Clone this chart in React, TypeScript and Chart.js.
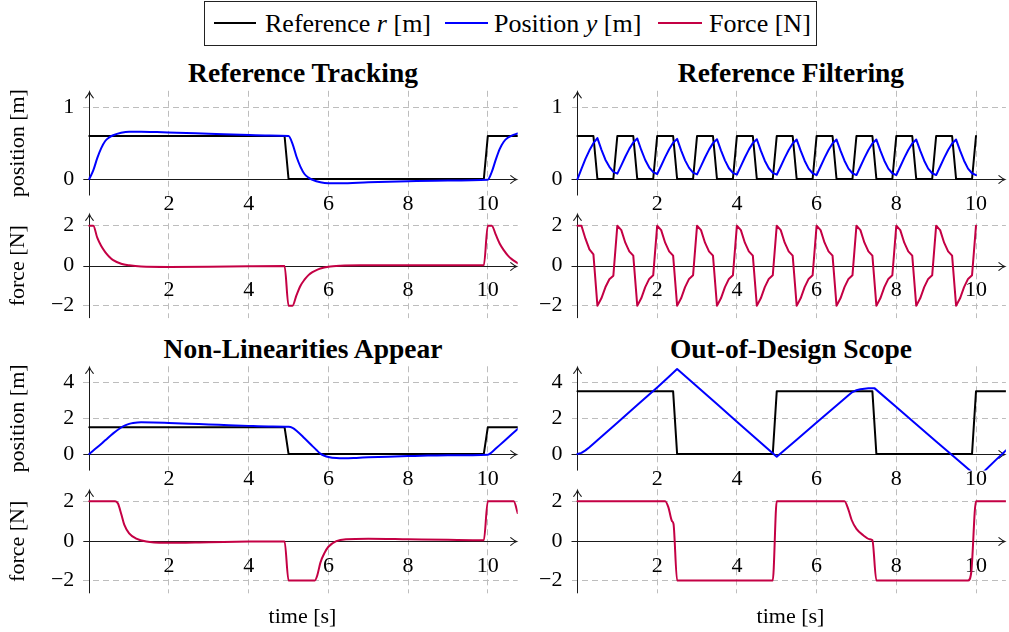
import React, { useEffect, useRef } from 'react';
import { Chart, registerables } from 'chart.js';

Chart.register(...registerables);

const FONT = "'Liberation Serif', 'Times New Roman', serif";
const BLUE = '#0000ff';
const RED = '#c40044';
const BLACK = '#000000';
const GRID_COLOR = '#bdbdbd';
const AXIS_COLOR = '#1a1a1a';
const NONE = 'rgba(0,0,0,0)';

// ---------- tick values / labels ----------
const xTickValues = [0, 2, 4, 6, 8, 10];
const xTickLabels = ['', '2', '4', '6', '8', '10'];
const posTicksSmall = [0, 1];
const posLabelsSmall = ['0', '1'];
const posTicksLarge = [0, 2, 4];
const posLabelsLarge = ['0', '2', '4'];
const forceTicks = [-2, 0, 2];
const forceLabels = ['\u22122', '0', '2'];

// ---------- Reference Tracking ----------
const trackTimeRef = [0, 4.9, 5.0, 9.9, 10.0, 10.75];
const trackRef = [0.6, 0.6, 0, 0, 0.6, 0.6];
const trackTimePos = [0, 0.1, 0.2, 0.3, 0.4, 0.5, 0.6, 0.8, 1.0, 1.3, 1.7, 2.2, 3.0, 3.8, 4.5, 5.0, 5.1, 5.2, 5.3, 5.4, 5.5, 5.6, 5.8, 6.0, 6.3, 7.0, 8.0, 9.0, 10.0, 10.1, 10.2, 10.3, 10.4, 10.5, 10.6, 10.75];
const trackPos = [0, 0.12, 0.29, 0.43, 0.53, 0.58, 0.61, 0.645, 0.66, 0.66, 0.655, 0.645, 0.632, 0.618, 0.607, 0.6, 0.49, 0.31, 0.17, 0.07, 0.02, -0.01, -0.045, -0.058, -0.058, -0.045, -0.03, -0.02, -0.01, 0.1, 0.27, 0.42, 0.52, 0.575, 0.605, 0.635];
const trackTimeForce = [0, 0.1, 0.2, 0.3, 0.4, 0.5, 0.6, 0.8, 1.0, 1.3, 2.0, 3.0, 4.0, 4.9, 5.0, 5.1, 5.2, 5.3, 5.4, 5.5, 5.6, 5.7, 5.8, 6.0, 6.3, 6.8, 8.0, 9.9, 10.0, 10.1, 10.2, 10.3, 10.4, 10.5, 10.6, 10.75];
const trackForce = [2, 2, 1.4, 0.98, 0.68, 0.45, 0.28, 0.1, 0.02, -0.04, -0.06, -0.05, -0.03, -0.02, -2, -2, -1.47, -1.0, -0.7, -0.47, -0.32, -0.22, -0.14, -0.05, 0.0, 0.02, 0.02, 0.02, 2, 2, 1.55, 1.1, 0.78, 0.52, 0.33, 0.13];

// ---------- Reference Filtering ----------
const filterTimeRef = [0, 0.4, 0.5, 0.9, 1.0, 1.4, 1.5, 1.9, 2.0, 2.4, 2.5, 2.9, 3.0, 3.4, 3.5, 3.9, 4.0, 4.4, 4.5, 4.9, 5.0, 5.4, 5.5, 5.9, 6.0, 6.4, 6.5, 6.9, 7.0, 7.4, 7.5, 7.9, 8.0, 8.4, 8.5, 8.9, 9.0, 9.4, 9.5, 9.9, 10.0];
const filterRef = [0.6, 0.6, 0, 0, 0.6, 0.6, 0, 0, 0.6, 0.6, 0, 0, 0.6, 0.6, 0, 0, 0.6, 0.6, 0, 0, 0.6, 0.6, 0, 0, 0.6, 0.6, 0, 0, 0.6, 0.6, 0, 0, 0.6, 0.6, 0, 0, 0.6, 0.6, 0, 0, 0.6];
const filterTime = [
  0, 0.1, 0.2, 0.3, 0.4, 0.5, 0.6, 0.7, 0.8, 0.9,
  1.0, 1.1, 1.2, 1.3, 1.4, 1.5, 1.6, 1.7, 1.8, 1.9,
  2.0, 2.1, 2.2, 2.3, 2.4, 2.5, 2.6, 2.7, 2.8, 2.9,
  3.0, 3.1, 3.2, 3.3, 3.4, 3.5, 3.6, 3.7, 3.8, 3.9,
  4.0, 4.1, 4.2, 4.3, 4.4, 4.5, 4.6, 4.7, 4.8, 4.9,
  5.0, 5.1, 5.2, 5.3, 5.4, 5.5, 5.6, 5.7, 5.8, 5.9,
  6.0, 6.1, 6.2, 6.3, 6.4, 6.5, 6.6, 6.7, 6.8, 6.9,
  7.0, 7.1, 7.2, 7.3, 7.4, 7.5, 7.6, 7.7, 7.8, 7.9,
  8.0, 8.1, 8.2, 8.3, 8.4, 8.5, 8.6, 8.7, 8.8, 8.9,
  9.0, 9.1, 9.2, 9.3, 9.4, 9.5, 9.6, 9.7, 9.8, 9.9,
  10.0,
];
const filterPos = [
  0, 0.14, 0.28, 0.4, 0.5, 0.57, 0.41, 0.27, 0.17, 0.1,
  0.075, 0.19, 0.31, 0.42, 0.51, 0.565, 0.405, 0.265, 0.16, 0.095,
  0.07, 0.185, 0.305, 0.415, 0.505, 0.56, 0.4, 0.26, 0.155, 0.09,
  0.065, 0.18, 0.3, 0.41, 0.5, 0.555, 0.4, 0.26, 0.15, 0.085,
  0.06, 0.18, 0.3, 0.41, 0.5, 0.555, 0.395, 0.255, 0.15, 0.085,
  0.06, 0.175, 0.295, 0.405, 0.495, 0.55, 0.395, 0.255, 0.145, 0.08,
  0.055, 0.175, 0.295, 0.405, 0.495, 0.55, 0.395, 0.255, 0.145, 0.08,
  0.055, 0.175, 0.295, 0.405, 0.495, 0.55, 0.395, 0.255, 0.145, 0.08,
  0.055, 0.175, 0.295, 0.405, 0.495, 0.55, 0.395, 0.255, 0.145, 0.08,
  0.055, 0.175, 0.295, 0.405, 0.495, 0.55, 0.395, 0.255, 0.145, 0.08,
  0.055,
];
const filterForce = [
  2, 2, 1.35, 0.82, 0.57, -2, -1.63, -1.08, -0.68, -0.5,
  2, 1.78, 1.15, 0.72, 0.5, -2, -1.63, -1.07, -0.66, -0.48,
  2, 1.78, 1.15, 0.72, 0.5, -2, -1.63, -1.07, -0.66, -0.48,
  2, 1.78, 1.15, 0.72, 0.5, -2, -1.63, -1.07, -0.66, -0.48,
  2, 1.78, 1.15, 0.72, 0.5, -2, -1.63, -1.07, -0.66, -0.48,
  2, 1.78, 1.15, 0.72, 0.5, -2, -1.63, -1.07, -0.66, -0.48,
  2, 1.78, 1.15, 0.72, 0.5, -2, -1.63, -1.07, -0.66, -0.48,
  2, 1.78, 1.15, 0.72, 0.5, -2, -1.63, -1.07, -0.66, -0.48,
  2, 1.78, 1.15, 0.72, 0.5, -2, -1.63, -1.07, -0.66, -0.48,
  2, 1.78, 1.15, 0.72, 0.5, -2, -1.63, -1.07, -0.66, -0.48,
  2,
];

// ---------- Non-Linearities Appear ----------
const nlTimeRef = [0, 4.9, 5.0, 9.9, 10.0, 10.75];
const nlRef = [1.5, 1.5, 0, 0, 1.5, 1.5];
const nlTimePos = [0, 0.2, 0.4, 0.6, 0.8, 0.9, 1.0, 1.1, 1.3, 1.6, 2.0, 2.5, 3.0, 3.5, 4.0, 4.5, 5.0, 5.1, 5.2, 5.4, 5.6, 5.7, 5.8, 5.9, 6.0, 6.2, 6.4, 6.7, 7.0, 7.5, 8.0, 8.5, 9.0, 10.0, 10.1, 10.2, 10.4, 10.6, 10.75];
const nlPos = [0, 0.37, 0.76, 1.15, 1.48, 1.6, 1.68, 1.73, 1.77, 1.76, 1.73, 1.69, 1.65, 1.61, 1.57, 1.54, 1.52, 1.46, 1.3, 0.88, 0.44, 0.22, 0.02, -0.1, -0.17, -0.23, -0.24, -0.22, -0.19, -0.15, -0.12, -0.09, -0.07, -0.04, 0.1, 0.3, 0.7, 1.1, 1.4];
const nlTimeForce = [0, 0.65, 0.72, 0.8, 0.88, 1.0, 1.18, 1.43, 1.9, 3.0, 4.0, 4.9, 5.0, 5.66, 5.72, 5.8, 5.9, 6.0, 6.2, 6.45, 7.0, 8.0, 9.0, 9.9, 10.0, 10.65, 10.75];
const nlForce = [2, 2, 1.88, 1.37, 0.8, 0.38, 0.11, -0.04, -0.1, -0.07, -0.04, -0.03, -2, -2, -1.75, -1.1, -0.62, -0.3, -0.02, 0.08, 0.11, 0.08, 0.05, 0.03, 2, 2, 1.4];

// ---------- Out-of-Design Scope ----------
const oodTimeRef = [0, 2.4, 2.5, 4.9, 5.0, 7.4, 7.5, 9.9, 10.0, 10.75];
const oodRef = [3.5, 3.5, 0, 0, 3.5, 3.5, 0, 0, 3.5, 3.5];
const oodTimePos = [0, 0.1, 0.2, 0.3, 0.5, 1.0, 1.5, 2.0, 2.3, 2.5, 3.0, 3.5, 4.0, 4.5, 5.0, 5.5, 6.0, 6.5, 6.8, 6.9, 7.0, 7.1, 7.2, 7.3, 7.45, 8.0, 8.5, 9.0, 9.5, 9.9, 10.0, 10.1, 10.2, 10.5, 10.75];
const oodPos = [0, 0.06, 0.2, 0.38, 0.77, 1.75, 2.73, 3.72, 4.33, 4.75, 3.77, 2.79, 1.8, 0.82, -0.15, 0.8, 1.76, 2.71, 3.28, 3.46, 3.56, 3.62, 3.65, 3.67, 3.68, 2.62, 1.66, 0.7, -0.26, -1.02, -1.18, -1.18, -0.98, -0.33, 0.2];
const oodTimeForce = [0, 2.2, 2.28, 2.37, 2.41, 2.5, 4.9, 5.0, 6.7, 6.8, 6.88, 7.0, 7.17, 7.33, 7.4, 7.5, 9.8, 9.88, 10.0, 10.75];
const oodForce = [2, 2, 1.7, 1.0, 0.85, -2, -2, 2, 2, 1.56, 1.05, 0.6, 0.28, 0.08, 0.03, -2, -2, -1.6, 2, 2];

// ---------- layout ----------
const X_MIN = -0.15;
const X_MAX = 10.75;

const COLS = [
  { canvasLeft: 0, canvasWidth: 530, areaLeft: 83.3, areaRight: 517.7 },
  { canvasLeft: 505, canvasWidth: 504, areaLeft: 571.5, areaRight: 1005.9 },
];
const ROWS = [
  { canvasTop: 80, canvasHeight: 140, areaTop: 90.8, areaBottom: 195.5 },
  { canvasTop: 203, canvasHeight: 135, areaTop: 213.3, areaBottom: 318.1 },
  { canvasTop: 356, canvasHeight: 135, areaTop: 366.3, areaBottom: 470.6 },
  { canvasTop: 479, canvasHeight: 125, areaTop: 489.3, areaBottom: 593.3 },
];

type Series = { t: number[]; v: number[]; color: string; smooth: boolean };
type Panel = {
  col: number;
  row: number;
  yMin: number;
  yMax: number;
  yTicks: number[];
  yLabels: string[];
  yTitle: string;
  series: Series[];
};

const PANELS: Panel[] = [
  {
    col: 0, row: 0, yMin: -0.23, yMax: 1.23, yTicks: posTicksSmall, yLabels: posLabelsSmall, yTitle: 'position [m]',
    series: [
      { t: trackTimePos, v: trackPos, color: BLUE, smooth: true },
      { t: trackTimeRef, v: trackRef, color: BLACK, smooth: false },
    ],
  },
  {
    col: 0, row: 1, yMin: -2.62, yMax: 2.62, yTicks: forceTicks, yLabels: forceLabels, yTitle: 'force [N]',
    series: [{ t: trackTimeForce, v: trackForce, color: RED, smooth: true }],
  },
  {
    col: 1, row: 0, yMin: -0.23, yMax: 1.23, yTicks: posTicksSmall, yLabels: posLabelsSmall, yTitle: '',
    series: [
      { t: filterTime, v: filterPos, color: BLUE, smooth: false },
      { t: filterTimeRef, v: filterRef, color: BLACK, smooth: false },
    ],
  },
  {
    col: 1, row: 1, yMin: -2.62, yMax: 2.62, yTicks: forceTicks, yLabels: forceLabels, yTitle: '',
    series: [{ t: filterTime, v: filterForce, color: RED, smooth: false }],
  },
  {
    col: 0, row: 2, yMin: -0.93, yMax: 4.9, yTicks: posTicksLarge, yLabels: posLabelsLarge, yTitle: 'position [m]',
    series: [
      { t: nlTimePos, v: nlPos, color: BLUE, smooth: true },
      { t: nlTimeRef, v: nlRef, color: BLACK, smooth: false },
    ],
  },
  {
    col: 0, row: 3, yMin: -2.65, yMax: 2.6, yTicks: forceTicks, yLabels: forceLabels, yTitle: 'force [N]',
    series: [{ t: nlTimeForce, v: nlForce, color: RED, smooth: true }],
  },
  {
    col: 1, row: 2, yMin: -0.93, yMax: 4.9, yTicks: posTicksLarge, yLabels: posLabelsLarge, yTitle: '',
    series: [
      { t: oodTimePos, v: oodPos, color: BLUE, smooth: false },
      { t: oodTimeRef, v: oodRef, color: BLACK, smooth: false },
    ],
  },
  {
    col: 1, row: 3, yMin: -2.65, yMax: 2.6, yTicks: forceTicks, yLabels: forceLabels, yTitle: '',
    series: [{ t: oodTimeForce, v: oodForce, color: RED, smooth: true }],
  },
];

const toPoints = (t: number[], v: number[]) => t.map((x, i) => ({ x, y: v[i] }));

const axisArrows = {
  id: 'axisArrows',
  beforeDatasetsDraw(chart: any) {
    const { ctx, chartArea: a, scales } = chart;
    const x0 = Math.round(scales.x.getPixelForValue(0)) + 0.5;
    const y0 = Math.round(scales.y.getPixelForValue(0)) + 0.5;
    ctx.save();
    ctx.setLineDash([]);
    ctx.strokeStyle = AXIS_COLOR;
    ctx.lineWidth = 1;
    ctx.beginPath();
    ctx.moveTo(a.left, y0);
    ctx.lineTo(a.right - 1, y0);
    ctx.moveTo(x0, a.bottom);
    ctx.lineTo(x0, a.top + 1);
    ctx.stroke();
    ctx.lineWidth = 1.1;
    ctx.lineCap = 'round';
    const tx = a.right - 1;
    const ty = a.top + 1;
    ctx.beginPath();
    ctx.moveTo(tx - 6, y0 - 3.8);
    ctx.quadraticCurveTo(tx - 2.5, y0 - 0.8, tx, y0);
    ctx.quadraticCurveTo(tx - 2.5, y0 + 0.8, tx - 6, y0 + 3.8);
    ctx.moveTo(x0 - 3.8, ty + 6);
    ctx.quadraticCurveTo(x0 - 0.8, ty + 2.5, x0, ty);
    ctx.quadraticCurveTo(x0 + 0.8, ty + 2.5, x0 + 3.8, ty + 6);
    ctx.stroke();
    ctx.restore();
  },
};

function makeConfig(p: Panel): any {
  const col = COLS[p.col];
  const row = ROWS[p.row];
  const yAxisWidth = col.areaLeft - col.canvasLeft;
  const zeroPad = (s: any) => {
    s.paddingLeft = 0;
    s.paddingRight = 0;
    s.paddingTop = 0;
    s.paddingBottom = 0;
  };
  return {
    type: 'line',
    data: {
      datasets: p.series.map((s) => ({
        data: toPoints(s.t, s.v),
        borderColor: s.color,
        backgroundColor: s.color,
        borderWidth: 2,
        pointRadius: 0,
        pointHoverRadius: 0,
        fill: false,
        tension: 0,
        cubicInterpolationMode: s.smooth ? 'monotone' : 'default',
        borderJoinStyle: 'round',
        borderCapStyle: 'round',
      })),
    },
    options: {
      animation: false,
      responsive: false,
      maintainAspectRatio: false,
      events: [],
      layout: {
        padding: {
          left: 0,
          top: row.areaTop - row.canvasTop,
          right: col.canvasLeft + col.canvasWidth - col.areaRight,
          bottom: row.canvasTop + row.canvasHeight - row.areaBottom,
        },
      },
      plugins: {
        legend: { display: false },
        tooltip: { enabled: false },
        title: { display: false },
      },
      scales: {
        x: {
          type: 'linear',
          min: X_MIN,
          max: X_MAX,
          position: { y: 0 },
          afterBuildTicks: (s: any) => {
            s.ticks = xTickValues.map((v) => ({ value: v }));
          },
          afterFit: (s: any) => {
            s.height = 0;
            zeroPad(s);
          },
          border: { display: false, dash: [6, 4] },
          grid: {
            color: (c: any) => (c.tick && c.tick.value === 0 ? NONE : GRID_COLOR),
            lineWidth: 1,
            drawTicks: false,
          },
          ticks: {
            padding: 14,
            autoSkip: false,
            maxRotation: 0,
            minRotation: 0,
            color: '#000',
            font: { family: FONT, size: 22, lineHeight: 1 },
            callback: (_v: any, i: number) => xTickLabels[i],
          },
        },
        y: {
          type: 'linear',
          min: p.yMin,
          max: p.yMax,
          position: 'left',
          afterBuildTicks: (s: any) => {
            s.ticks = p.yTicks.map((v) => ({ value: v }));
          },
          afterFit: (s: any) => {
            s.width = yAxisWidth;
            zeroPad(s);
          },
          border: { display: false, dash: [6, 4] },
          grid: {
            color: (c: any) => (c.tick && c.tick.value === 0 ? NONE : GRID_COLOR),
            lineWidth: 1,
            drawTicks: false,
          },
          ticks: {
            padding: 9,
            autoSkip: false,
            color: '#000',
            font: { family: FONT, size: 22, lineHeight: 1 },
            callback: (_v: any, i: number) => p.yLabels[i],
          },
          title: {
            display: p.yTitle !== '',
            text: p.yTitle,
            color: '#000',
            font: { family: FONT, size: 22, lineHeight: 1.2 },
            padding: { top: 5, bottom: 0 },
          },
        },
      },
    },
    plugins: [axisArrows],
  };
}

function PanelChart({ panel }: { panel: Panel }) {
  const ref = useRef<HTMLCanvasElement | null>(null);
  const col = COLS[panel.col];
  const row = ROWS[panel.row];
  useEffect(() => {
    if (!ref.current) return;
    const chart = new Chart(ref.current, makeConfig(panel));
    return () => chart.destroy();
  }, [panel]);
  return (
    <canvas
      ref={ref}
      width={col.canvasWidth}
      height={row.canvasHeight}
      style={{
        position: 'absolute',
        left: col.canvasLeft,
        top: row.canvasTop,
        width: col.canvasWidth,
        height: row.canvasHeight,
      }}
    />
  );
}

const titleStyle = (cx: number, top: number): React.CSSProperties => ({
  position: 'absolute',
  left: cx - 250,
  top,
  width: 500,
  textAlign: 'center',
  fontFamily: FONT,
  fontWeight: 'bold',
  fontSize: 27.5,
  lineHeight: '27.5px',
  whiteSpace: 'nowrap',
  color: '#000',
});

const labelStyle = (cx: number, top: number): React.CSSProperties => ({
  position: 'absolute',
  left: cx - 100,
  top,
  width: 200,
  textAlign: 'center',
  fontFamily: FONT,
  fontSize: 22,
  lineHeight: '22px',
  whiteSpace: 'nowrap',
  color: '#000',
});

const legendText = (left: number): React.CSSProperties => ({
  position: 'absolute',
  left,
  top: 10.5,
  fontFamily: FONT,
  fontSize: 26,
  lineHeight: '26px',
  whiteSpace: 'nowrap',
  color: '#000',
});

const legendLine = (left: number, width: number, color: string): React.CSSProperties => ({
  position: 'absolute',
  left,
  top: 22,
  width,
  height: 2,
  background: color,
});

export default function App() {
  return (
    <div
      style={{
        position: 'absolute',
        left: 0,
        top: 0,
        width: 1009,
        height: 632,
        background: '#fff',
        overflow: 'hidden',
      }}
    >
      {/* legend */}
      <div
        style={{
          position: 'absolute',
          left: 204,
          top: 1,
          width: 613,
          height: 45,
          border: '1px solid #222',
          boxSizing: 'border-box',
        }}
      />
      <div style={legendLine(214, 42, BLACK)} />
      <div style={legendText(265)}>
        Reference <i>r</i> [m]
      </div>
      <div style={legendLine(445, 43, BLUE)} />
      <div style={legendText(494)}>
        Position <i>y</i> [m]
      </div>
      <div style={legendLine(658, 44, RED)} />
      <div style={legendText(709)}>Force [N]</div>

      {/* titles */}
      <div style={titleStyle(303, 59)}>Reference Tracking</div>
      <div style={titleStyle(791, 59)}>Reference Filtering</div>
      <div style={titleStyle(303, 334.5)}>Non-Linearities Appear</div>
      <div style={titleStyle(791, 334.5)}>Out-of-Design Scope</div>

      {PANELS.map((p, i) => (
        <PanelChart key={i} panel={p} />
      ))}

      <div style={labelStyle(302.5, 605)}>time [s]</div>
      <div style={labelStyle(790.5, 605)}>time [s]</div>
    </div>
  );
}
